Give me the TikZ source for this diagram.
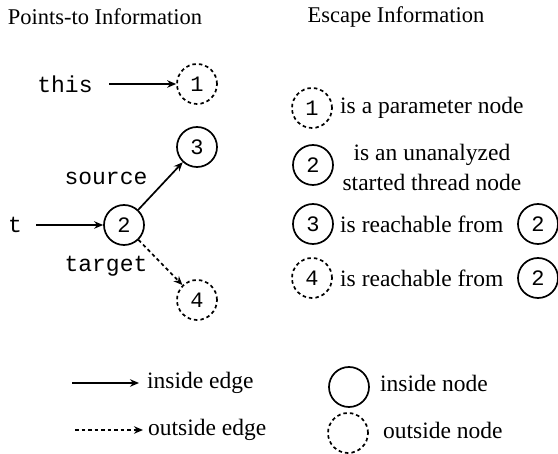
\documentclass[tikz,border=0pt]{standalone}
\usepackage{fontspec}
\setmainfont{Liberation Serif}
\setmonofont{Liberation Mono}
\usetikzlibrary{arrows.meta}
\begin{document}
\begin{tikzpicture}[x=1pt,y=-1pt,
  head/.style={font=\fontsize{22.5}{26}\selectfont, inner sep=0pt},
  lbl/.style={font=\fontsize{23.5}{30}\selectfont, inner sep=0pt},
  code/.style={font=\fontsize{23}{26}\ttfamily, inner sep=0pt},
  innode/.style={circle, draw, line width=1.7pt, minimum size=40pt, inner sep=0pt, font=\fontsize{22}{24}\ttfamily},
  outnode/.style={innode, dash pattern=on 3.5pt off 3pt},
  inedge/.style={line width=1.7pt, -{Stealth[length=9pt,width=7.5pt]}},
  outedge/.style={inedge, dash pattern=on 3.5pt off 3pt},
]
\useasboundingbox (0,0) rectangle (558,454);

% headings
\node[head] (h1) at (105,17) {Points-to Information};
\node[head] (h2) at (396,17) {Escape Information};

% points-to graph
\node[code] (this) at (65,84) {this};
\node[outnode] (n1) at (197,84) {1};
\node[code] (t) at (15,225) {t};
\node[innode] (n2) at (124,225) {2};
\node[innode] (n3) at (197,147) {3};
\node[outnode] (n4) at (197,300) {4};
\node[code] (src) at (106,178) {source};
\node[code] (tgt) at (106,266) {target};

\draw[inedge] (this) ++(44,0) coordinate (thisend) -- (n1);
\draw[inedge] (t) ++(21,0) coordinate (tend) -- (n2);
\draw[inedge] (n2) -- (n3);
\draw[outedge] (n2) -- (n4);

% escape information
\node[outnode] (e1) at (312,108) {1};
\node[lbl, anchor=west] (e1t) at (340,108) {is a parameter node};
\node[innode] (e2) at (313,165) {2};
\node[lbl, align=center] (e2t) at (432,167) {is an unanalyzed\\started thread node};
\node[innode] (e3) at (313,224) {3};
\node[lbl, anchor=west] (e3t) at (340,224) {is reachable from};
\node[innode] (e3r) at (538,224) {2};
\node[outnode] (e4) at (312,278) {4};
\node[lbl, anchor=west] (e4t) at (340,278) {is reachable from};
\node[innode] (e4r) at (538,278) {2};

% legend
\coordinate (l1a) at (72,383);
\coordinate (l1b) at (139,383);
\draw[inedge] (l1a) -- (l1b);
\node[lbl, anchor=west] (l1t) at (147,383) {inside edge};
\coordinate (l2a) at (75,430);
\coordinate (l2b) at (143,430);
\draw[outedge] (l2a) -- (l2b);
\node[lbl, anchor=west] (l2t) at (148,430) {outside edge};
\node[innode] (l3) at (349,387) {};
\node[lbl, anchor=west] (l3t) at (380,383) {inside node};
\node[outnode] (l4) at (348,433) {};
\node[lbl, anchor=west] (l4t) at (383,430) {outside node};
\end{tikzpicture}
\end{document}
